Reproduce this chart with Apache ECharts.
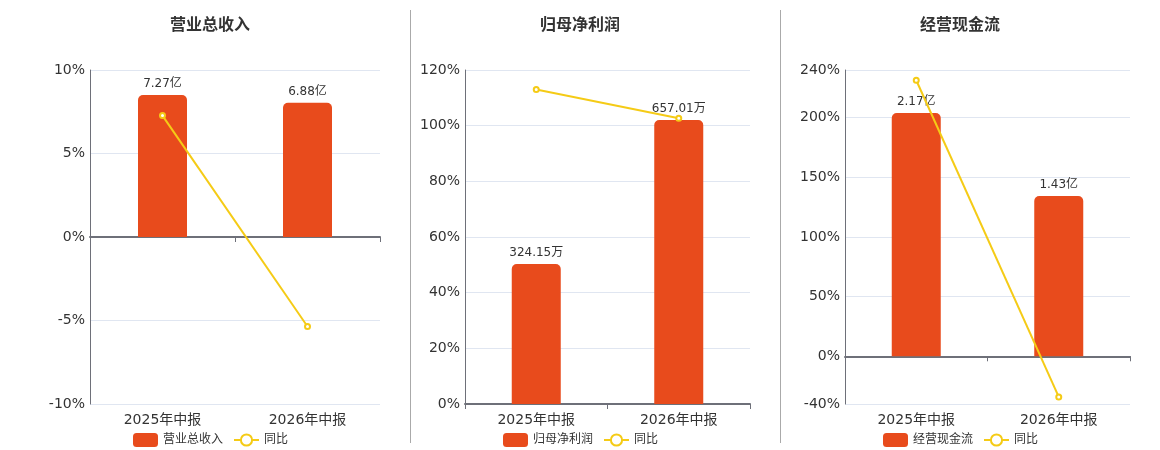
<!DOCTYPE html>
<html>
<head>
<meta charset="utf-8">
<script src="https://cdn.jsdelivr.net/npm/echarts@6/dist/echarts.min.js"></script>
<style>
  html, body { margin: 0; padding: 0; background: #fff; }
  #chart { width: 1160px; height: 450px; }
</style>
</head>
<body>
<div id="chart"></div>
<script>
"use strict";
var categories = ['2025年中报', '2026年中报'];

var titles = ['营业总收入', '归母净利润', '经营现金流'];
var barUnits = ['亿', '万', '亿'];

var revenueValues = [7.27, 6.88];
var profitValues = [324.15, 657.01];
var cashflowValues = [2.17, 1.43];

var revenueYoy = [7.27, -5.36];
var profitYoy = [113.0, 102.69];
var cashflowYoy = [231.4, -34.1];

var pctMin = [-10, 0, -40];
var pctMax = [10, 120, 240];
var pctInterval = [5, 20, null];

var barSets = [revenueValues, profitValues, cashflowValues];
var yoySets = [revenueYoy, profitYoy, cashflowYoy];

var FONT = '"DejaVu Sans", "Noto Sans CJK SC", sans-serif';
var BAR_COLOR = '#E84B1C';
var LINE_COLOR = '#F5CB16';
var AXIS_COLOR = '#6E7079';
var TEXT_COLOR = '#333';

var gridLeft = [90, 465, 845];
var gridWidth = [290, 285, 285];
var panelCenter = [205, 575, 955];
var legendLeft = [128, 498, 878];

var option = {
    animation: false,
    textStyle: { fontFamily: FONT },
    title: [],
    legend: [],
    grid: [],
    xAxis: [],
    yAxis: [],
    series: [],
    graphic: [
        { type: 'line', shape: { x1: 410.5, y1: 10, x2: 410.5, y2: 443 }, style: { stroke: '#aaa', lineWidth: 1 } },
        { type: 'line', shape: { x1: 780.5, y1: 10, x2: 780.5, y2: 443 }, style: { stroke: '#aaa', lineWidth: 1 } }
    ]
};

for (var i = 0; i < 3; i++) {
    option.title.push({
        text: titles[i],
        left: panelCenter[i],
        textAlign: 'center',
        top: 13,
        textStyle: { fontSize: 16, fontWeight: 'bold', color: TEXT_COLOR, fontFamily: FONT }
    });
    option.legend.push({
        data: [
            { name: titles[i], icon: 'roundRect' },
            { name: '同比' }
        ],
        left: legendLeft[i],
        top: 428,
        itemWidth: 25,
        itemHeight: 14,
        itemGap: 10,
        textStyle: { fontSize: 12, color: TEXT_COLOR, fontFamily: FONT }
    });
    option.grid.push({
        left: gridLeft[i],
        width: gridWidth[i],
        top: 70,
        height: 334
    });
    // axis line sitting on zero
    option.xAxis.push({
        type: 'category',
        gridIndex: i,
        data: categories,
        axisLine: { onZero: true, lineStyle: { color: AXIS_COLOR, width: 2 } },
        axisTick: { show: true, lineStyle: { color: AXIS_COLOR } },
        axisLabel: { show: false }
    });
    // labels at the bottom
    option.xAxis.push({
        type: 'category',
        gridIndex: i,
        data: categories,
        position: 'bottom',
        axisLine: { show: false, onZero: false },
        axisTick: { show: false },
        axisLabel: { fontSize: 14, color: TEXT_COLOR, margin: 9, fontFamily: FONT }
    });
    var yPct = {
        type: 'value',
        gridIndex: i,
        min: pctMin[i],
        max: pctMax[i],
        axisLine: { show: true, lineStyle: { color: AXIS_COLOR } },
        axisTick: { show: false },
        splitLine: { lineStyle: { color: '#E0E6F1' } },
        axisLabel: { formatter: '{value}%', fontSize: 14, color: TEXT_COLOR, margin: 5, fontFamily: FONT,
            padding: [2, 0, 0, 0] }
    };
    if (pctInterval[i]) yPct.interval = pctInterval[i];
    else yPct.splitNumber = 5;
    option.yAxis.push(yPct);

    var barMax = Math.max.apply(null, barSets[i]) / 0.85;
    var barMin = barMax * pctMin[i] / pctMax[i];
    option.yAxis.push({
        type: 'value',
        gridIndex: i,
        min: barMin,
        max: barMax,
        show: false,
        splitLine: { show: false }
    });

    (function (unit) {
        option.series.push({
            name: titles[i],
            type: 'bar',
            xAxisIndex: i * 2,
            yAxisIndex: i * 2 + 1,
            data: barSets[i],
            barWidth: 49,
            itemStyle: { color: BAR_COLOR, borderRadius: [5, 5, 0, 0] },
            label: {
                show: true,
                position: 'top',
                fontSize: 12,
                color: TEXT_COLOR,
                fontFamily: FONT,
                formatter: function (p) { return p.value.toFixed(2) + unit; }
            }
        });
    })(barUnits[i]);

    option.series.push({
        name: '同比',
        type: 'line',
        xAxisIndex: i * 2,
        yAxisIndex: i * 2,
        data: yoySets[i],
        symbol: 'emptyCircle',
        symbolSize: 5,
        lineStyle: { color: LINE_COLOR, width: 2 },
        itemStyle: { color: LINE_COLOR, borderWidth: 1.5 },
        z: 5
    });
}

var chart = echarts.init(document.getElementById('chart'));
chart.setOption(option);
</script>
</body>
</html>
